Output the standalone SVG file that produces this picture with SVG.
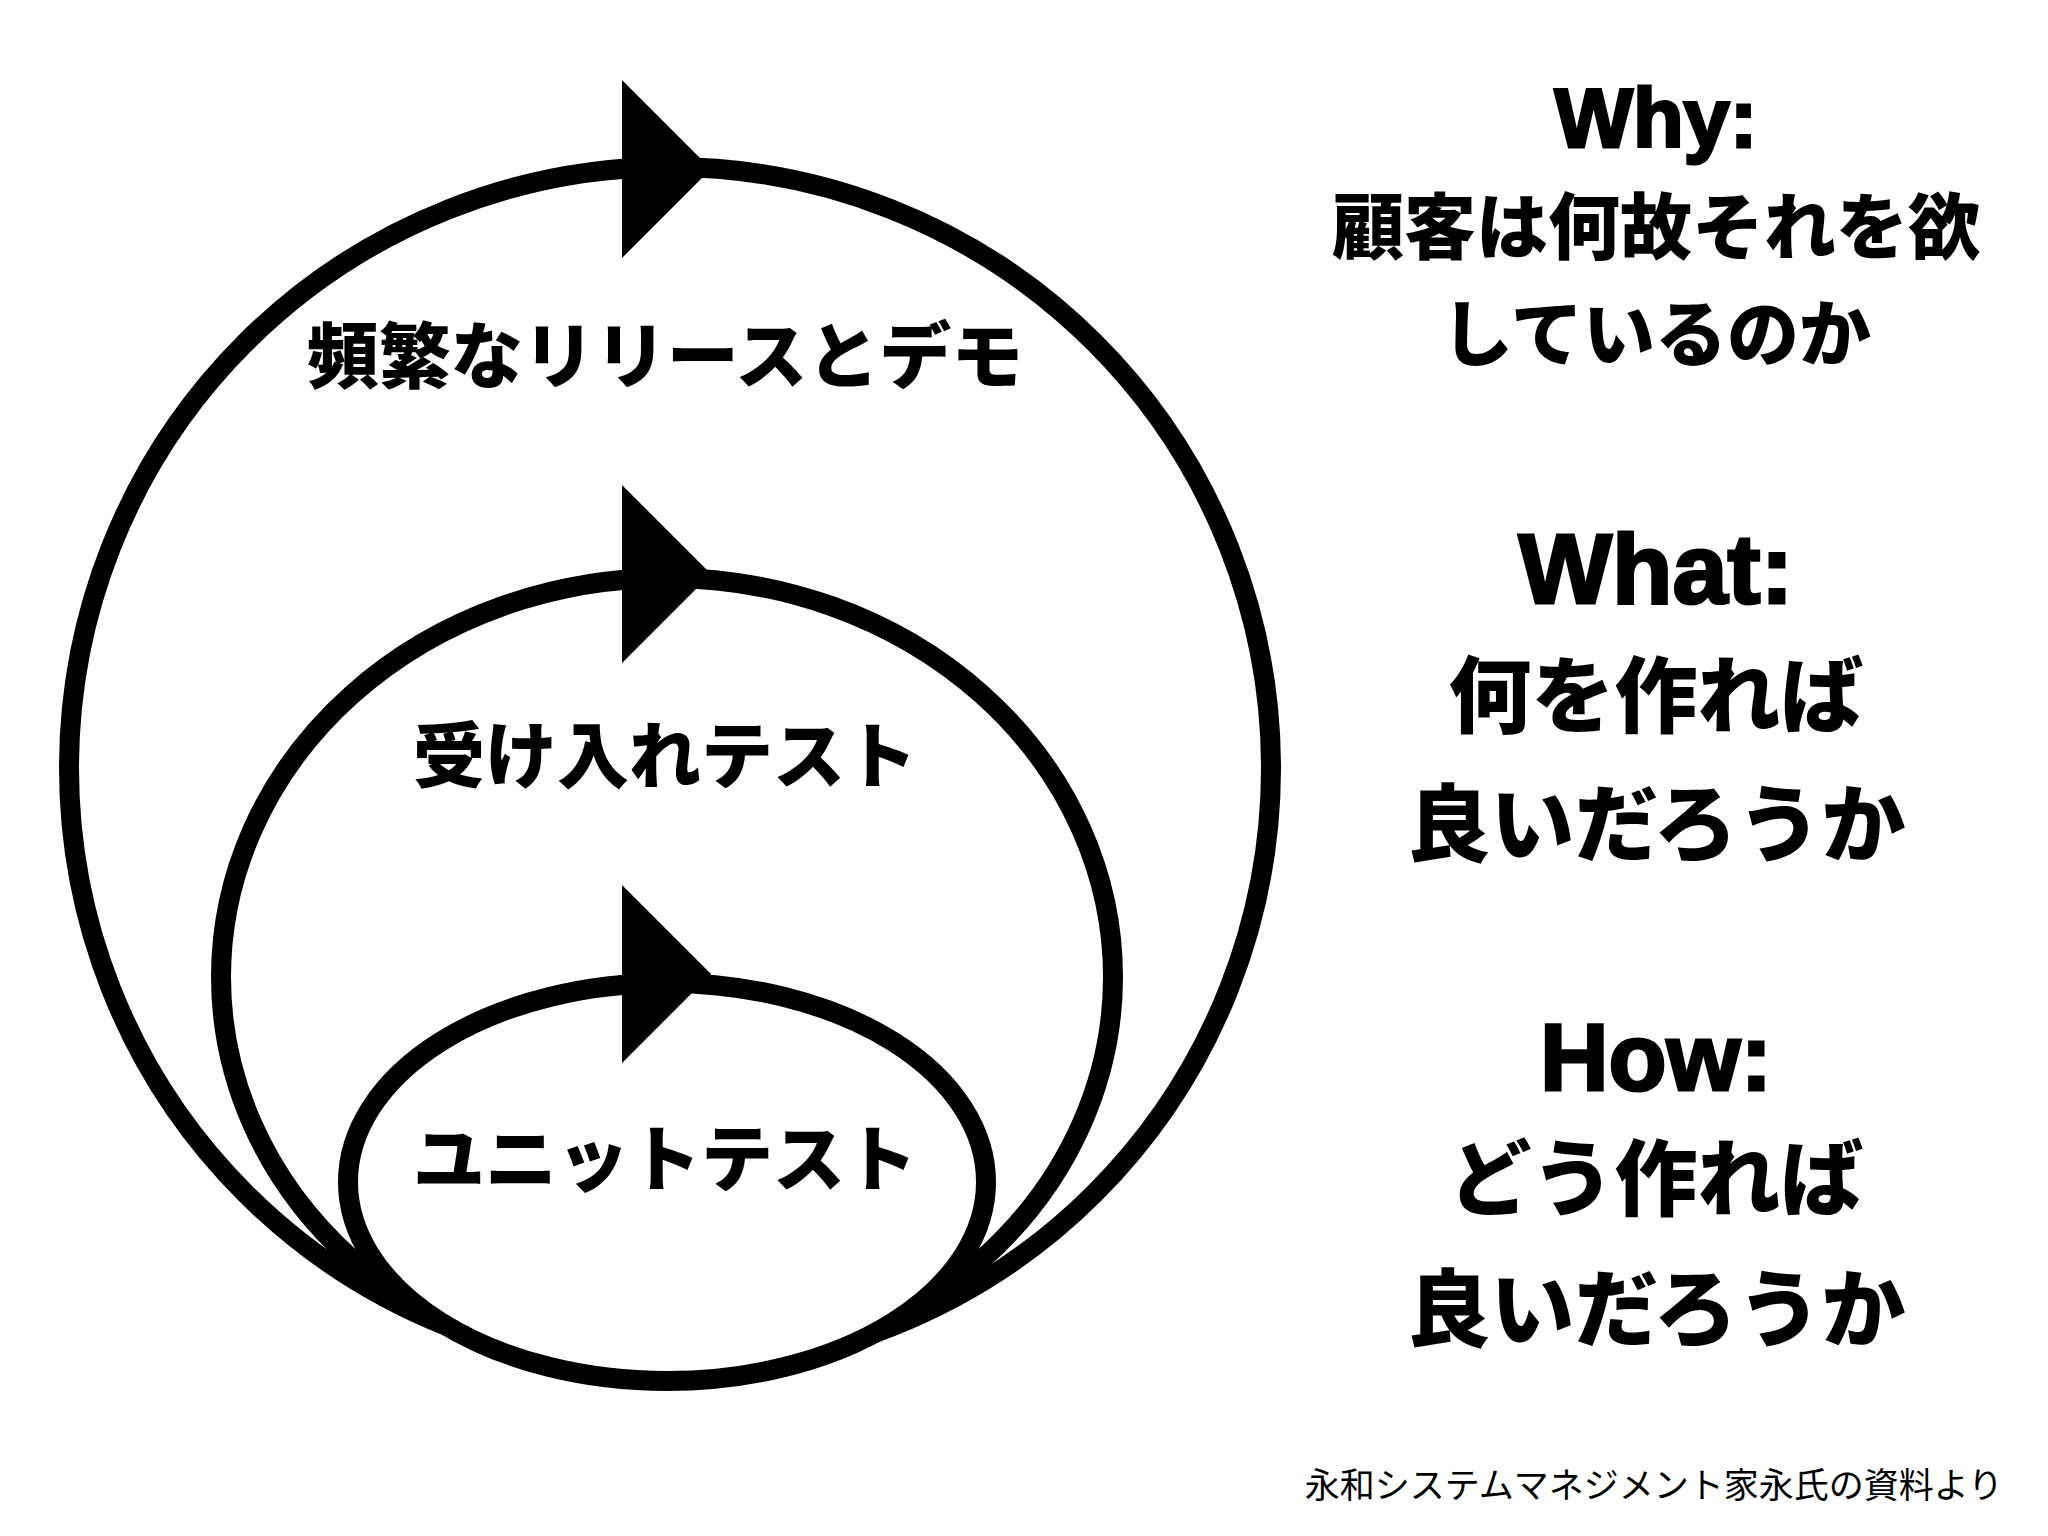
<svg xmlns="http://www.w3.org/2000/svg" xmlns:xlink="http://www.w3.org/1999/xlink" width="2048" height="1536" viewBox="0 0 2048 1536">
<style>
.loop{fill:none;stroke:#000;stroke-width:20}
.inner{fill:#fff;stroke:#000;stroke-width:20}
.jp{font-family:"Noto Sans CJK JP","Noto Sans CJK SC",sans-serif;font-weight:900;fill:#000;text-anchor:middle}
.en{font-family:"Liberation Sans",Arial,sans-serif;font-weight:bold;fill:#000;stroke:#000;stroke-width:3;text-anchor:middle}
.note{font-family:"Noto Sans CJK JP","Noto Sans CJK SC",sans-serif;font-weight:400;font-size:35px;fill:#000;text-anchor:end}
</style>
<defs>
<path id="arrow" d="M0,-89 L89,0 L0,89 Z" fill="#000"/>
</defs>
<rect width="2048" height="1536" fill="#fff"/>
<g id="connectors">
<circle class="loop" cx="670" cy="768" r="601"/>
<ellipse class="loop" cx="667" cy="977" rx="446" ry="399"/>
<ellipse class="inner" cx="667" cy="1182" rx="319" ry="199"/>
<use xlink:href="#arrow" x="622" y="169"/>
<use xlink:href="#arrow" x="622" y="574"/>
<use xlink:href="#arrow" x="622" y="974"/>
</g>
<g id="node-release">
<text class="jp" x="665" y="382" font-size="72">頻繁なリリースとデモ</text>
</g>
<g id="node-acceptance">
<text class="jp" x="665" y="782" font-size="72">受け入れテスト</text>
</g>
<g id="node-unit">
<text class="jp" x="665" y="1185" font-size="72">ユニットテスト</text>
</g>
<g id="node-why">
<text class="en" x="1656" y="147" font-size="83">Why:</text>
<text class="jp" x="1656" y="253" font-size="72">顧客は何故それを欲</text>
<text class="jp" x="1656" y="360" font-size="72">しているのか</text>
</g>
<g id="node-what">
<text class="en" x="1656" y="603" font-size="99">What:</text>
<text class="jp" x="1656" y="726" font-size="83">何を作れば</text>
<text class="jp" x="1656" y="855" font-size="84">良いだろうか</text>
</g>
<g id="node-how">
<text class="en" x="1656" y="1090" font-size="95">How:</text>
<text class="jp" x="1656" y="1209" font-size="83">どう作れば</text>
<text class="jp" x="1656" y="1340" font-size="84">良いだろうか</text>
</g>
<g id="note">
<text class="note" x="2003" y="1498">永和システムマネジメント家永氏の資料より</text>
</g>
</svg>
